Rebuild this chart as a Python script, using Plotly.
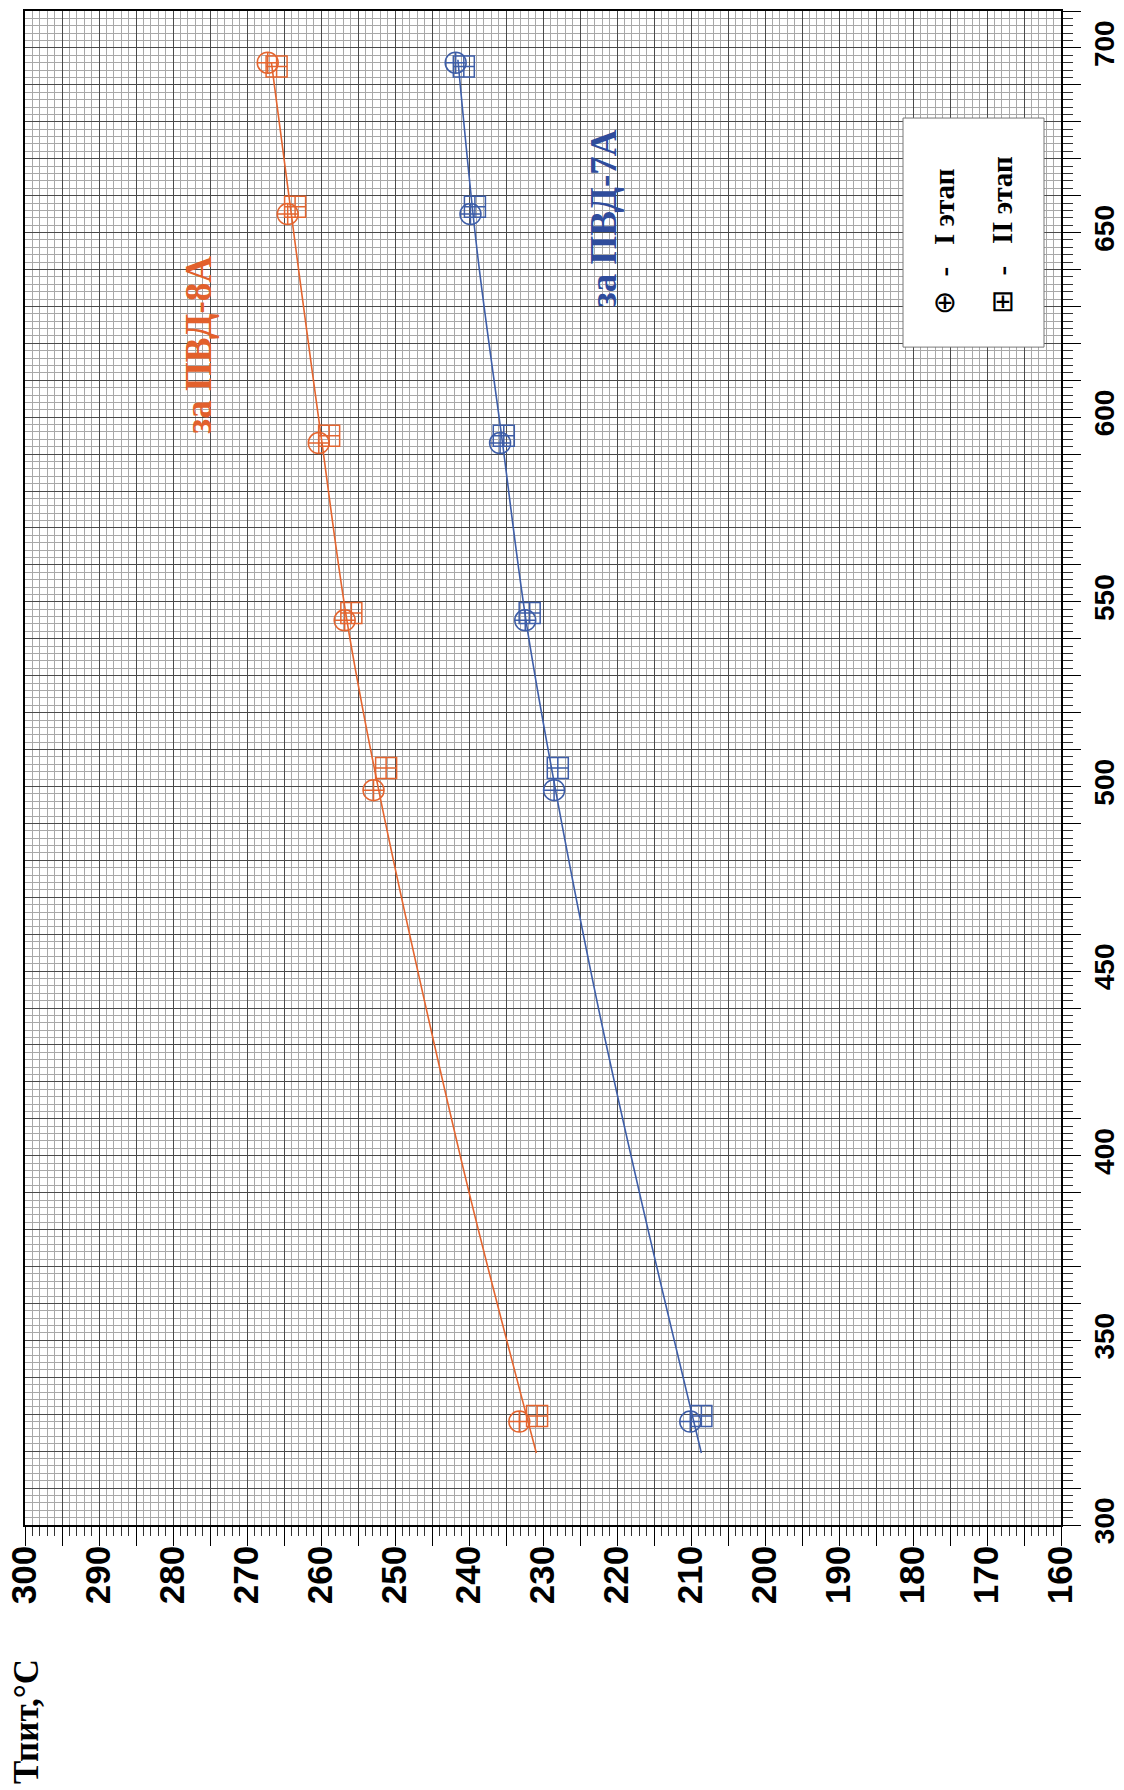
import plotly.graph_objects as go

# ---- data ----
# vertical axis quantity (rotated chart): 300..700
X_STAGE1 = [328, 499, 545, 593, 655, 696]
X_STAGE2 = [329.5, 505, 547, 595, 657, 695]
# Тпит, °C
T8_STAGE1 = [233.2, 252.9, 256.8, 260.3, 264.5, 267.2]
T8_STAGE2 = [230.8, 251.2, 255.9, 258.9, 263.5, 266.0]
T7_STAGE1 = [210.1, 228.5, 232.4, 235.8, 239.8, 241.8]
T7_STAGE2 = [208.6, 228.0, 231.8, 235.3, 239.2, 240.7]

# fitted curves
LINE8_X = [319.5, 387.7, 441.8, 499, 545, 595, 636.5, 696]
LINE8_T = [230.9, 239.7, 246.0, 252.2, 256.5, 260.0, 262.8, 266.7]
LINE7_X = [319.5, 387.7, 441.8, 499, 545, 595, 645, 696.8]
LINE7_T = [208.6, 216.7, 222.7, 228.3, 232.3, 235.6, 238.9, 241.5]

LABEL_8A = "за ПВД-8А"
LABEL_7A = "за ПВД-7А"
SYM_1, LEGEND_1 = "⊕", "-\u00a0\u00a0\u00a0I этап"
SYM_2, LEGEND_2 = "⊞", "-\u00a0\u00a0\u00a0II этап"
AXIS_TITLE = "Тпит,°С"

ORANGE = "#E4652F"
BLUE = "#3E5EA8"

fig = go.Figure()

fig.add_trace(go.Scatter(x=LINE8_T, y=LINE8_X, mode="lines", line=dict(color=ORANGE, width=1.6, shape="spline"),
                         showlegend=False, hoverinfo="skip"))
fig.add_trace(go.Scatter(x=LINE7_T, y=LINE7_X, mode="lines", line=dict(color=BLUE, width=1.6, shape="spline"),
                         showlegend=False, hoverinfo="skip"))

for T, X, col, sym in [
    (T8_STAGE1, X_STAGE1, ORANGE, "circle-cross-open"),
    (T8_STAGE2, X_STAGE2, ORANGE, "square-cross-open"),
    (T7_STAGE1, X_STAGE1, BLUE, "circle-cross-open"),
    (T7_STAGE2, X_STAGE2, BLUE, "square-cross-open"),
]:
    fig.add_trace(go.Scatter(x=T, y=X, mode="markers",
                             marker=dict(symbol=sym, size=21, color=col, line=dict(color=col, width=1.5)),
                             showlegend=False))

MAJOR_GRID = "#4a4a4a"
MINOR_GRID = "#a8a8a8"

fig.update_layout(
    width=1124, height=1790,
    margin=dict(l=25, r=63, t=11, b=265),
    paper_bgcolor="white", plot_bgcolor="white",
    showlegend=False,
    xaxis=dict(
        range=[300, 160], tickmode="linear", tick0=300, dtick=5, ticklabelstep=2,
        tickangle=-90, ticks="outside", ticklen=19, tickwidth=1, tickcolor="black",
        tickfont=dict(family="Liberation Sans, Arial", size=35, color="black", weight="bold"),
        showgrid=True, gridcolor=MAJOR_GRID, gridwidth=1,
        minor=dict(dtick=1, tick0=300, ticks="outside", ticklen=9, tickcolor="#333",
                   showgrid=True, gridcolor=MINOR_GRID, gridwidth=0.7),
        showline=True, linecolor="black", linewidth=1.5, mirror=True, zeroline=False,
        automargin=False, ticklabelstandoff=-14,
    ),
    yaxis=dict(
        range=[300, 710], side="right", tickmode="linear", tick0=300, dtick=10, ticklabelstep=5,
        tickangle=-90, ticks="outside", ticklen=18, tickwidth=1, tickcolor="black",
        tickfont=dict(family="Liberation Sans, Arial", size=28, color="black", weight="bold"),
        showgrid=True, gridcolor=MAJOR_GRID, gridwidth=1,
        minor=dict(dtick=2, tick0=300, ticks="outside", ticklen=10, tickcolor="#333",
                   showgrid=True, gridcolor=MINOR_GRID, gridwidth=0.7),
        showline=True, linecolor="black", linewidth=1.5, mirror=True, zeroline=False,
        automargin=False, ticklabelstandoff=0,
    ),
)

# legend box
fig.add_shape(type="rect", xref="paper", yref="paper", x0=0.8475, x1=0.9836, y0=0.778, y1=0.9293,
              fillcolor="white", line=dict(color="#777", width=1), layer="above")

serif = "Liberation Serif, Times New Roman, serif"
fig.add_annotation(xref="paper", yref="paper", x=0.887, y=0.8474, xanchor="center", yanchor="middle",
                   text=SYM_1 + "\u00a0\u00a0<b>" + LEGEND_1 + "</b>",
                   textangle=-90, showarrow=False, font=dict(family=serif, size=29, color="black"))
fig.add_annotation(xref="paper", yref="paper", x=0.943, y=0.852, xanchor="center", yanchor="middle",
                   text=SYM_2 + "\u00a0\u00a0<b>" + LEGEND_2 + "</b>",
                   textangle=-90, showarrow=False, font=dict(family=serif, size=29, color="black"))

fig.add_annotation(x=276.5, y=619.6, text="<b>" + LABEL_8A + "</b>", textangle=-90, showarrow=False,
                   xanchor="center", yanchor="middle",
                   font=dict(family=serif, size=37, color="#E2602C"))
fig.add_annotation(x=221.8, y=653.8, text="<b>" + LABEL_7A + "</b>", textangle=-90, showarrow=False,
                   xanchor="center", yanchor="middle",
                   font=dict(family=serif, size=37, color="#2F4C9C"))

fig.add_annotation(xref="paper", yref="paper", x=0.002, y=-0.130, xanchor="center", yanchor="middle",
                   text="<b>" + AXIS_TITLE + "</b>",
                   textangle=-90, showarrow=False, font=dict(family=serif, size=35, color="black"))

fig.write_html("out.html")
